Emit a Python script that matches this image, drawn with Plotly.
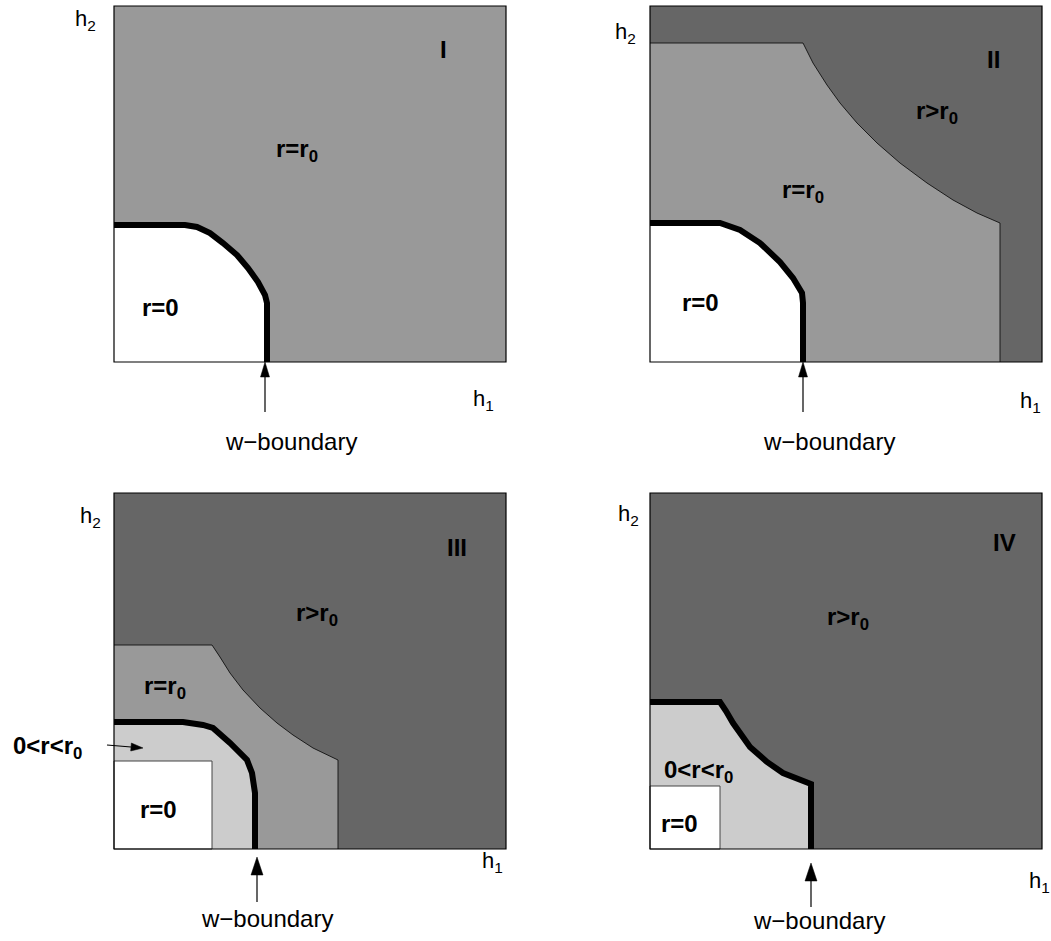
import plotly.graph_objects as go

FIG_W, FIG_H = 1051, 941
PANEL_W, PANEL_H = 392, 356

WHITE, LIGHT, MID, DARK = "#ffffff", "#cccccc", "#999999", "#666666"
FONT = "Liberation Sans, Arial, sans-serif"

# ---------------- data (panel units: h1 to the right, h2 upward) ----------------
panel_names = ["I", "II", "III", "IV"]
frame_left = [114, 650, 114, 650]
frame_bottom = [362, 362, 849, 849]
dom_x = [(0, 540), (545, 1051), (0, 540), (545, 1051)]
dom_y = [(0, 472), (0, 472), (476, 941), (476, 941)]
backgrounds = [MID, DARK, DARK, DARK]

# w-boundary (thick line)
wb_x = {
    "I":   [0, 71, 83, 96, 109, 123, 134, 144, 151, 153, 153],
    "II":  [0, 70, 90, 110, 130, 143, 152, 153, 153],
    "III": [0, 69, 89, 99, 116, 133, 138, 141, 141],
    "IV":  [0, 70, 76, 83, 100, 117, 133, 150, 161, 161],
}
wb_y = {
    "I":   [137, 137, 135, 129, 119, 107, 94, 80, 67, 59, 0],
    "II":  [139, 139, 132, 119, 100, 84, 69, 59, 0],
    "III": [127, 127, 124, 121, 106, 89, 76, 56, 0],
    "IV":  [147, 147, 138, 126, 102, 87, 76, 69, 65, 0],
}
# fill colour inside the w-boundary
wb_fill = {"I": WHITE, "II": WHITE, "III": LIGHT, "IV": LIGHT}

# r = r0 region boundary (thin line)
r0_x = {
    "II":  [0, 153, 163, 177, 190, 207, 227, 250, 277, 303, 327, 350, 350],
    "III": [0, 98, 106, 116, 129, 146, 163, 179, 199, 224, 224],
}
r0_y = {
    "II":  [319, 319, 299, 277, 259, 239, 219, 199, 179, 162, 149, 139, 0],
    "III": [204, 204, 192, 176, 159, 141, 126, 114, 101, 89, 0],
}

# r = 0 rectangle (width, height) where it is separate from the w-boundary
r_zero_rect = {"III": (98, 88), "IV": (70, 63)}

# text labels: (panel, text, x, y, bold, size)
labels = [
    ("I", "I", 329, 313, True, 24),
    ("I", "r=r<sub>0</sub>", 183, 212, True, 24),
    ("I", "r=0", 46, 55, True, 24),
    ("I", "w\u2212boundary", 177, -79, False, 24),
    ("I", "h<sub>1</sub>", 369, -38, False, 22),
    ("I", "h<sub>2</sub>", -29, 342, False, 22),

    ("II", "II", 343, 303, True, 24),
    ("II", "r&gt;r<sub>0</sub>", 287, 250, True, 24),
    ("II", "r=r<sub>0</sub>", 153, 171, True, 24),
    ("II", "r=0", 50, 60, True, 24),
    ("II", "w\u2212boundary", 179, -79, False, 24),
    ("II", "h<sub>1</sub>", 380, -40, False, 22),
    ("II", "h<sub>2</sub>", -25, 329, False, 22),

    ("III", "III", 343, 302, True, 24),
    ("III", "r&gt;r<sub>0</sub>", 203, 235, True, 24),
    ("III", "r=r<sub>0</sub>", 51, 162, True, 24),
    ("III", "r=0", 44, 40, True, 24),
    ("III", "0&lt;r&lt;r<sub>0</sub>", -67, 102, True, 24),
    ("III", "w\u2212boundary", 153, -69, False, 24),
    ("III", "h<sub>1</sub>", 378, -13, False, 22),
    ("III", "h<sub>2</sub>", -24, 332, False, 22),

    ("IV", "IV", 354, 307, True, 24),
    ("IV", "r&gt;r<sub>0</sub>", 198, 231, True, 24),
    ("IV", "0&lt;r&lt;r<sub>0</sub>", 48, 78, True, 24),
    ("IV", "r=0", 29, 26, True, 24),
    ("IV", "w\u2212boundary", 169, -71, False, 24),
    ("IV", "h<sub>1</sub>", 389, -33, False, 22),
    ("IV", "h<sub>2</sub>", -22, 334, False, 22),
]

# arrows: (panel, tail_x, tail_y, tip_x, tip_y, head_len, head_width)
arrows = [
    ("I", 151, -50, 151, 0, 15, 9),
    ("II", 153, -50, 153, 0, 15, 9),
    ("III", 143, -53, 143, -8, 18, 12),
    ("III", -7, 104, 29, 101, 12, 8),
    ("IV", 161, -58, 161, -14, 18, 12),
]

# ---------------- figure ----------------
fig = go.Figure()
layout = dict(
    width=FIG_W, height=FIG_H,
    margin=dict(l=0, r=0, t=0, b=0),
    paper_bgcolor="white", plot_bgcolor="rgba(0,0,0,0)",
    showlegend=False,
)
axis_of = {}
shapes = []
annotations = []

for i, name in enumerate(panel_names):
    k = "" if i == 0 else str(i + 1)
    xa, ya = "x" + k, "y" + k
    axis_of[name] = (xa, ya)
    x0p, x1p = dom_x[i]
    y0p, y1p = dom_y[i]
    left, bottom = frame_left[i], frame_bottom[i]
    layout["xaxis" + k] = dict(
        domain=[x0p / FIG_W, x1p / FIG_W],
        range=[x0p - left, x1p - left], visible=False, fixedrange=True,
        anchor=ya,
    )
    layout["yaxis" + k] = dict(
        domain=[1 - y1p / FIG_H, 1 - y0p / FIG_H],
        range=[bottom - y1p, bottom - y0p], visible=False, fixedrange=True,
        anchor=xa,
    )
    # background of the panel
    shapes.append(dict(type="rect", xref=xa, yref=ya, x0=0, x1=PANEL_W, y0=0, y1=PANEL_H,
                       fillcolor=backgrounds[i], line=dict(width=0), layer="below"))
    # frame on top
    shapes.append(dict(type="rect", xref=xa, yref=ya, x0=0, x1=PANEL_W, y0=0, y1=PANEL_H,
                       fillcolor="rgba(0,0,0,0)", line=dict(color="black", width=1.2),
                       layer="above"))


def add(trace, name):
    xa, ya = axis_of[name]
    trace.update(xaxis=xa, yaxis=ya, hoverinfo="skip")
    fig.add_trace(trace)


for name in panel_names:
    # r = r0 region
    if name in r0_x:
        add(go.Scatter(x=[0] + r0_x[name], y=[0] + r0_y[name], mode="lines",
                       fill="toself", fillcolor=MID, line=dict(width=0)), name)
        add(go.Scatter(x=r0_x[name], y=r0_y[name], mode="lines",
                       line=dict(color="#111111", width=0.9)), name)
    # inside w-boundary
    add(go.Scatter(x=[0] + wb_x[name], y=[0] + wb_y[name], mode="lines",
                   fill="toself", fillcolor=wb_fill[name], line=dict(width=0)), name)
    # r = 0 rectangle
    if name in r_zero_rect:
        w, h = r_zero_rect[name]
        add(go.Scatter(x=[0, w, w, 0, 0], y=[0, 0, h, h, 0], mode="lines",
                       fill="toself", fillcolor=WHITE,
                       line=dict(color="#444444", width=1)), name)
    # thick w-boundary
    add(go.Scatter(x=wb_x[name], y=wb_y[name], mode="lines",
                   line=dict(color="black", width=6)), name)

# arrows
for name, tx, ty, hx, hy, hl, hw in arrows:
    dx, dy = hx - tx, hy - ty
    L = (dx * dx + dy * dy) ** 0.5
    ux, uy = dx / L, dy / L
    px, py = -uy, ux
    bx, by = hx - ux * hl, hy - uy * hl
    add(go.Scatter(x=[tx, bx], y=[ty, by], mode="lines",
                   line=dict(color="black", width=1.2)), name)
    add(go.Scatter(x=[hx, bx + px * hw / 2, bx - px * hw / 2, hx],
                   y=[hy, by + py * hw / 2, by - py * hw / 2, hy],
                   mode="lines", fill="toself", fillcolor="black",
                   line=dict(color="black", width=0.5)), name)

for name, text, x, y, bold, size in labels:
    xa, ya = axis_of[name]
    annotations.append(dict(
        x=x, y=y, xref=xa, yref=ya, showarrow=False,
        text=("<b>%s</b>" % text) if bold else text,
        font=dict(family=FONT, size=size, color="black"),
        xanchor="center", yanchor="middle",
    ))

layout["shapes"] = shapes
layout["annotations"] = annotations
fig.update_layout(**layout)
fig.write_html("out.html")
